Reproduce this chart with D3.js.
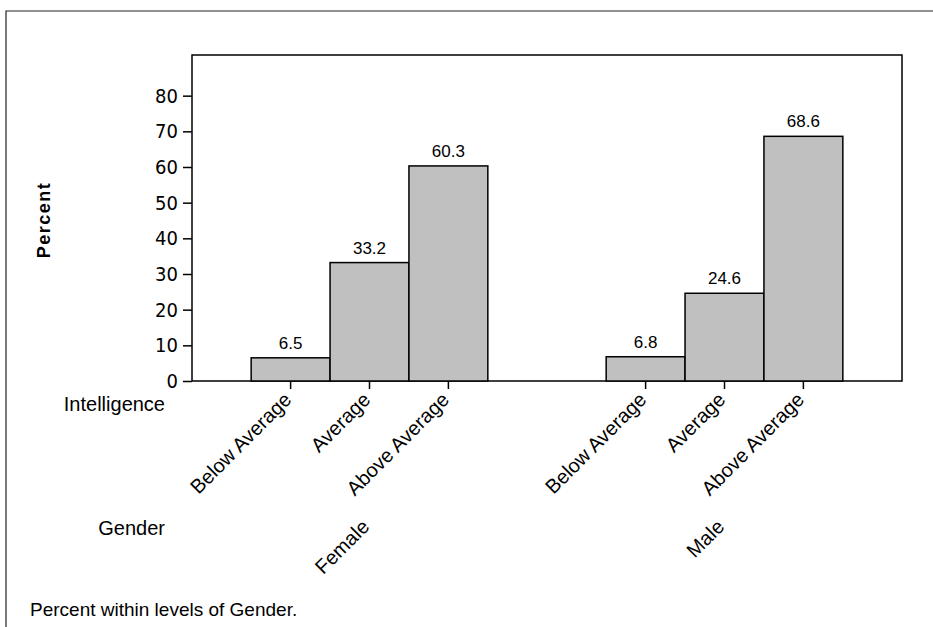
<!DOCTYPE html>
<html><head><meta charset="utf-8">
<script src="https://cdn.jsdelivr.net/npm/d3@7"></script>
<style>body{margin:0;background:#fff}</style>
</head><body>
<svg id="c" width="933" height="627"></svg>
<script>
const genders = ["Female", "Male"];
const intelligence = ["Below Average", "Average", "Above Average"];
const femaleValues = [6.5, 33.2, 60.3];
const maleValues = [6.8, 24.6, 68.6];
const yTicks = [0, 10, 20, 30, 40, 50, 60, 70, 80];

const seriesByGender = {Female: femaleValues, Male: maleValues};
const data = [];
genders.forEach(g => intelligence.forEach((lev, i) => data.push({g, lev, v: seriesByGender[g][i]})));

const svg = d3.select("#c");
const pL = 192, pR = 902, pT = 55, pB = 381;
const sans = "Liberation Sans, Arial, sans-serif";

// outer frame
svg.append("path").attr("d", `M6,627V11H933`).attr("fill","none").attr("stroke","#222").attr("stroke-width",1.2);

const x0 = d3.scaleBand().domain(genders).range([pL, pR]).paddingInner(1/3).paddingOuter(1/6);
const x1 = d3.scaleBand().domain(intelligence).range([0, x0.bandwidth()]).padding(0);
const y = d3.scaleLinear().domain([0, 91.4]).range([pB, pT]);

// plot frame
svg.append("rect").attr("x", pL).attr("y", pT).attr("width", pR-pL).attr("height", pB-pT)
  .attr("fill","none").attr("stroke","#000").attr("stroke-width",1.5);

// bars
svg.append("g").selectAll("rect").data(data).join("rect")
  .attr("x", d => x0(d.g) + x1(d.lev))
  .attr("y", d => y(d.v))
  .attr("width", x1.bandwidth())
  .attr("height", d => y(0) - y(d.v))
  .attr("fill", "#c0c0c0").attr("stroke", "#000").attr("stroke-width", 1.5);

// value labels
svg.append("g").selectAll("text").data(data).join("text")
  .attr("x", d => x0(d.g) + x1(d.lev) + x1.bandwidth()/2)
  .attr("y", d => y(d.v) - 9)
  .attr("text-anchor","middle")
  .attr("font-family", sans).attr("font-size", 17)
  .text(d => d.v.toFixed(1));

// y axis
const yAxis = svg.append("g").attr("transform", `translate(${pL},0)`)
  .call(d3.axisLeft(y).tickValues(yTicks).tickSize(9).tickPadding(5).tickSizeOuter(0));
yAxis.select(".domain").remove();
yAxis.selectAll("line").attr("stroke","#000").attr("stroke-width",1.5);
yAxis.selectAll("text").attr("font-family","DejaVu Sans Condensed, DejaVu Sans, sans-serif").attr("font-size",20).attr("fill","#000");

// x axis (intelligence ticks)
const xg = svg.append("g");
data.forEach(d => {
  const cx = x0(d.g) + x1(d.lev) + x1.bandwidth()/2;
  xg.append("line").attr("x1",cx).attr("x2",cx).attr("y1",pB).attr("y2",pB+8).attr("stroke","#000").attr("stroke-width",1.5);
  xg.append("text").attr("transform", `translate(${cx+2},${pB+20}) rotate(-45)`)
    .attr("text-anchor","end")
    .attr("font-family", sans).attr("font-size",20)
    .text(d.lev);
});
// gender labels
genders.forEach(g => {
  const cx = x0(g) + x0.bandwidth()/2;
  xg.append("text").attr("transform", `translate(${cx+1},${pB+147}) rotate(-45)`)
    .attr("text-anchor","end")
    .attr("font-family", sans).attr("font-size",20)
    .text(g);
});

svg.append("text").attr("x",165).attr("y",411).attr("text-anchor","end")
  .attr("font-family", sans).attr("font-size",20).text("Intelligence");
svg.append("text").attr("x",165).attr("y",535).attr("text-anchor","end")
  .attr("font-family", sans).attr("font-size",20).text("Gender");

svg.append("text").attr("transform","translate(50,220) rotate(-90)").attr("text-anchor","middle")
  .attr("font-family", sans).attr("font-weight","bold").attr("font-size",18)
  .attr("letter-spacing", 1.5).text("Percent");

svg.append("text").attr("x",30).attr("y",616)
  .attr("font-family", sans).attr("font-size",19).text("Percent within levels of Gender.");
</script>
</body></html>
